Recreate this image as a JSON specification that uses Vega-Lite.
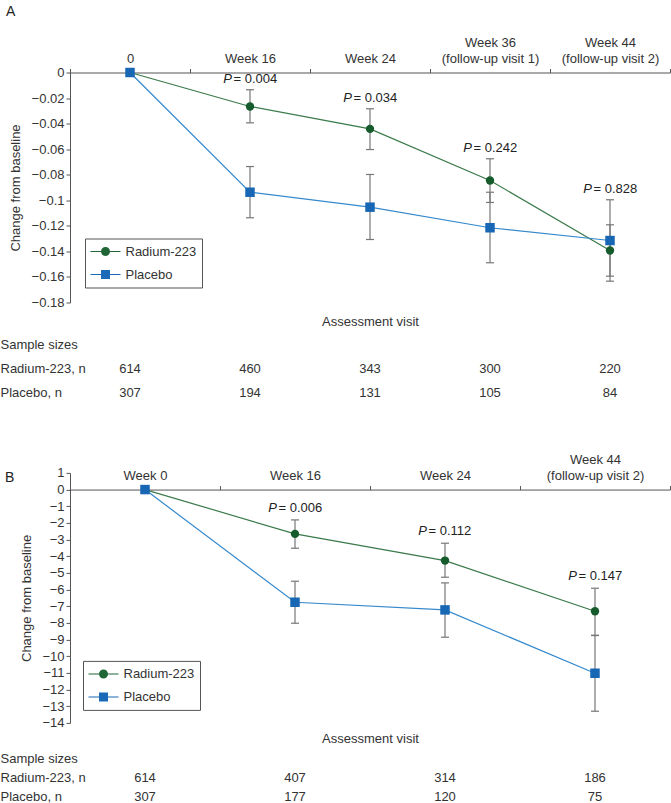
{
  "$schema": "https://vega.github.io/schema/vega-lite/v6.json",
  "padding": {"left": 0, "top": 4.5, "right": 0, "bottom": 0},
  "background": "white",
  "config": {
    "font": "Liberation Sans",
    "view": {"stroke": null},
    "axis": {"domainColor": "#555", "tickColor": "#555", "labelColor": "#333", "titleColor": "#333", "labelFontSize": 13, "titleFontSize": 13, "titleFontWeight": "normal", "grid": false, "domainWidth": 1, "tickWidth": 1, "labelFont": "Liberation Sans", "titleFont": "Liberation Sans", "labelOverlap": false},
    "axisY": {"labelOverlap": false},
    "title": {"fontWeight": "normal", "font": "Liberation Sans"},
    "legend": {"labelFont": "Liberation Sans"}
  },
  "bounds": "flush",
  "spacing": 26.2,
  "resolve": {"scale": {"color": "independent", "shape": "independent"}, "legend": {"color": "independent", "shape": "independent"}},
  "vconcat": [
    {
      "width": 600,
      "height": 230,
      "title": {"text": "A", "anchor": "start", "frame": "group", "dx": -64, "dy": -16, "offset": 2, "fontSize": 14, "fontWeight": "normal", "color": "#222"},
      "data": {"values": [
        {"visit": "0", "series": "Radium-223", "mean": 0},
        {"visit": "Week 16", "series": "Radium-223", "mean": -0.0266, "lo": -0.0394, "hi": -0.0135, "p": "= 0.004"},
        {"visit": "Week 24", "series": "Radium-223", "mean": -0.0441, "lo": -0.0603, "hi": -0.0284, "p": "= 0.034"},
        {"visit": "Week 36 (follow-up visit 1)", "series": "Radium-223", "mean": -0.0845, "lo": -0.1017, "hi": -0.0675, "p": "= 0.242"},
        {"visit": "Week 44 (follow-up visit 2)", "series": "Radium-223", "mean": -0.1393, "lo": -0.1594, "hi": -0.1192, "p": "= 0.828"},
        {"visit": "0", "series": "Placebo", "mean": 0},
        {"visit": "Week 16", "series": "Placebo", "mean": -0.0937, "lo": -0.1137, "hi": -0.0736, "p": "= 0.004"},
        {"visit": "Week 24", "series": "Placebo", "mean": -0.1054, "lo": -0.1307, "hi": -0.0798, "p": "= 0.034"},
        {"visit": "Week 36 (follow-up visit 1)", "series": "Placebo", "mean": -0.1215, "lo": -0.1489, "hi": -0.0937, "p": "= 0.242"},
        {"visit": "Week 44 (follow-up visit 2)", "series": "Placebo", "mean": -0.1315, "lo": -0.1633, "hi": -0.0996, "p": "= 0.828"}
      ]},
      "encoding": {
        "x": {"field": "visit", "type": "nominal",
          "sort": ["0", "Week 16", "Week 24", "Week 36 (follow-up visit 1)", "Week 44 (follow-up visit 2)"],
          "scale": {"type": "band", "paddingInner": 0, "paddingOuter": 0},
          "axis": {"orient": "top", "title": null, "tickBand": "extent", "tickSize": 4, "labelPadding": 19, "labelAngle": 0, "labelLineHeight": 16, "labelOverlap": false, "labelLimit": 200,
            "labelExpr": "indexof(datum.label, ' (') > 0 ? [slice(datum.label, 0, indexof(datum.label, ' (')), slice(datum.label, indexof(datum.label, ' (') + 1)] : ['', datum.label]"}}
      },
      "layer": [
        {
          "transform": [{"filter": "datum.series == 'Radium-223'"}],
          "mark": {"type": "line", "color": "#3a7a4a", "strokeWidth": 1.2},
          "encoding": {"y": {"field": "mean", "type": "quantitative", "scale": {"domain": [-0.18, 0], "nice": false, "zero": false},
            "axis": {"title": "Change from baseline", "values": [0, -0.02, -0.04, -0.06, -0.08, -0.1, -0.12, -0.14, -0.16, -0.18], "format": "~g", "tickSize": 4, "labelPadding": 2, "titlePadding": 9, "labelOverlap": false, "labelFlush": false}}}
        },
        {
          "transform": [{"filter": "datum.series == 'Placebo'"}],
          "mark": {"type": "line", "color": "#3589cc", "strokeWidth": 1.2},
          "encoding": {"y": {"field": "mean", "type": "quantitative", "scale": {"domain": [-0.18, 0], "nice": false, "zero": false},
            "axis": {"title": "Change from baseline", "values": [0, -0.02, -0.04, -0.06, -0.08, -0.1, -0.12, -0.14, -0.16, -0.18], "format": "~g", "tickSize": 4, "labelPadding": 2, "titlePadding": 9, "labelOverlap": false, "labelFlush": false}}}
        },
        {
          "transform": [{"filter": "isValid(datum.lo)"}],
          "mark": {"type": "rule", "color": "#777", "strokeWidth": 1.2},
          "encoding": {"y": {"field": "lo", "type": "quantitative", "scale": {"domain": [-0.18, 0], "nice": false, "zero": false},
            "axis": {"title": "Change from baseline", "values": [0, -0.02, -0.04, -0.06, -0.08, -0.1, -0.12, -0.14, -0.16, -0.18], "format": "~g", "tickSize": 4, "labelPadding": 2, "titlePadding": 9, "labelOverlap": false, "labelFlush": false}}, "y2": {"field": "hi"}}
        },
        {
          "transform": [{"filter": "isValid(datum.lo)"}],
          "mark": {"type": "tick", "color": "#777", "size": 8, "thickness": 1.2, "opacity": 1},
          "encoding": {"y": {"field": "lo", "type": "quantitative", "scale": {"domain": [-0.18, 0], "nice": false, "zero": false},
            "axis": {"title": "Change from baseline", "values": [0, -0.02, -0.04, -0.06, -0.08, -0.1, -0.12, -0.14, -0.16, -0.18], "format": "~g", "tickSize": 4, "labelPadding": 2, "titlePadding": 9, "labelOverlap": false, "labelFlush": false}}}
        },
        {
          "transform": [{"filter": "isValid(datum.hi)"}],
          "mark": {"type": "tick", "color": "#777", "size": 8, "thickness": 1.2, "opacity": 1},
          "encoding": {"y": {"field": "hi", "type": "quantitative", "scale": {"domain": [-0.18, 0], "nice": false, "zero": false},
            "axis": {"title": "Change from baseline", "values": [0, -0.02, -0.04, -0.06, -0.08, -0.1, -0.12, -0.14, -0.16, -0.18], "format": "~g", "tickSize": 4, "labelPadding": 2, "titlePadding": 9, "labelOverlap": false, "labelFlush": false}}}
        },
        {
          "transform": [{"filter": "datum.series == 'Radium-223'"}],
          "mark": {"type": "circle", "color": "#155b2b", "size": 70, "opacity": 1},
          "encoding": {"y": {"field": "mean", "type": "quantitative", "scale": {"domain": [-0.18, 0], "nice": false, "zero": false},
            "axis": {"title": "Change from baseline", "values": [0, -0.02, -0.04, -0.06, -0.08, -0.1, -0.12, -0.14, -0.16, -0.18], "format": "~g", "tickSize": 4, "labelPadding": 2, "titlePadding": 9, "labelOverlap": false, "labelFlush": false}}}
        },
        {
          "transform": [{"filter": "datum.series == 'Placebo'"}],
          "mark": {"type": "square", "color": "#1767b5", "size": 90, "opacity": 1},
          "encoding": {"y": {"field": "mean", "type": "quantitative", "scale": {"domain": [-0.18, 0], "nice": false, "zero": false},
            "axis": {"title": "Change from baseline", "values": [0, -0.02, -0.04, -0.06, -0.08, -0.1, -0.12, -0.14, -0.16, -0.18], "format": "~g", "tickSize": 4, "labelPadding": 2, "titlePadding": 9, "labelOverlap": false, "labelFlush": false}}}
        },
        {
          "transform": [{"filter": "isValid(datum.p)"}],
          "mark": {"type": "text", "text": "P", "fontStyle": "italic", "fontSize": 13, "color": "#222", "align": "right", "baseline": "middle", "dx": -18, "dy": -11},
          "encoding": {"y": {"aggregate": "max", "field": "hi", "type": "quantitative", "scale": {"domain": [-0.18, 0], "nice": false, "zero": false},
            "axis": {"title": "Change from baseline", "values": [0, -0.02, -0.04, -0.06, -0.08, -0.1, -0.12, -0.14, -0.16, -0.18], "format": "~g", "tickSize": 4, "labelPadding": 2, "titlePadding": 9, "labelOverlap": false, "labelFlush": false}}}
        },
        {
          "transform": [{"filter": "isValid(datum.p)"}],
          "mark": {"type": "text", "fontSize": 13, "color": "#222", "align": "left", "baseline": "middle", "dx": -16.5, "dy": -11},
          "encoding": {"y": {"aggregate": "max", "field": "hi", "type": "quantitative", "scale": {"domain": [-0.18, 0], "nice": false, "zero": false},
            "axis": {"title": "Change from baseline", "values": [0, -0.02, -0.04, -0.06, -0.08, -0.1, -0.12, -0.14, -0.16, -0.18], "format": "~g", "tickSize": 4, "labelPadding": 2, "titlePadding": 9, "labelOverlap": false, "labelFlush": false}}, "text": {"field": "p", "type": "nominal"}}
        },
        {
          "transform": [{"filter": "false"}],
          "mark": {"type": "point", "filled": true, "opacity": 1},
          "encoding": {
            "color": {"field": "series", "type": "nominal", "scale": {"domain": ["Radium-223", "Placebo"], "range": ["#1f6535", "#1a6ab8"]},
              "legend": {"title": null, "orient": "bottom-left", "offset": 15, "padding": 5.5, "rowPadding": 8, "strokeColor": "#555", "fillColor": "white", "symbolSize": 225, "symbolStrokeWidth": 0, "labelOffset": 20, "labelFontSize": 13, "labelColor": "#333"}},
            "shape": {"field": "series", "type": "nominal", "scale": {"domain": ["Radium-223", "Placebo"], "range": ["M-1,-0.07H3V0.07H-1ZM0.4,0A0.6,0.6 0 1,1 1.6,0A0.6,0.6 0 1,1 0.4,0Z", "M-1,-0.07H3V0.07H-1ZM0.4,-0.6H1.6V0.6H0.4Z"]}}
          }
        }
      ]
    },
    {
      "width": 600,
      "height": 117.9,
      "data": {"values": [
        {"visit": "0", "row": "Radium-223, n", "n": "614"},
        {"visit": "Week 16", "row": "Radium-223, n", "n": "460"},
        {"visit": "Week 24", "row": "Radium-223, n", "n": "343"},
        {"visit": "Week 36 (follow-up visit 1)", "row": "Radium-223, n", "n": "300"},
        {"visit": "Week 44 (follow-up visit 2)", "row": "Radium-223, n", "n": "220"},
        {"visit": "0", "row": "Placebo, n", "n": "307"},
        {"visit": "Week 16", "row": "Placebo, n", "n": "194"},
        {"visit": "Week 24", "row": "Placebo, n", "n": "131"},
        {"visit": "Week 36 (follow-up visit 1)", "row": "Placebo, n", "n": "105"},
        {"visit": "Week 44 (follow-up visit 2)", "row": "Placebo, n", "n": "84"}
      ]},
      "mark": {"type": "text", "fontSize": 13, "color": "#333", "baseline": "middle"},
      "encoding": {
        "x": {"field": "visit", "type": "nominal", "sort": ["0", "Week 16", "Week 24", "Week 36 (follow-up visit 1)", "Week 44 (follow-up visit 2)"],
          "scale": {"type": "band", "paddingInner": 0, "paddingOuter": 0},
          "axis": {"orient": "top", "title": "Assessment visit", "labels": false, "ticks": false, "domain": false, "titlePadding": 0}},
        "y": {"field": "row", "type": "nominal", "scale": {"type": "band", "domain": ["Sample sizes", "Radium-223, n", "Placebo, n"], "paddingInner": 0, "paddingOuter": 1.6026, "align": 0.1034},
          "axis": {"title": null, "labelAlign": "left", "labelPadding": 70, "ticks": false, "tickSize": 0, "domain": false, "labelFontSize": 13, "labelBaseline": "middle"}},
        "text": {"field": "n", "type": "nominal"}
      }
    },
    {
      "width": 600,
      "height": 250,
      "title": {"text": "B", "anchor": "start", "frame": "group", "dx": -65, "dy": 33.5, "offset": 2, "fontSize": 14, "fontWeight": "normal", "color": "#222"},
      "data": {"values": [
        {"visit": "Week 0", "series": "Radium-223", "mean": 0},
        {"visit": "Week 16", "series": "Radium-223", "mean": -2.66, "lo": -3.52, "hi": -1.82, "p": "= 0.006"},
        {"visit": "Week 24", "series": "Radium-223", "mean": -4.26, "lo": -5.26, "hi": -3.22, "p": "= 0.112"},
        {"visit": "Week 44 (follow-up visit 2)", "series": "Radium-223", "mean": -7.3, "lo": -8.76, "hi": -5.92, "p": "= 0.147"},
        {"visit": "Week 0", "series": "Placebo", "mean": 0},
        {"visit": "Week 16", "series": "Placebo", "mean": -6.76, "lo": -8.02, "hi": -5.5, "p": "= 0.006"},
        {"visit": "Week 24", "series": "Placebo", "mean": -7.22, "lo": -8.86, "hi": -5.6, "p": "= 0.112"},
        {"visit": "Week 44 (follow-up visit 2)", "series": "Placebo", "mean": -11.02, "lo": -13.3, "hi": -8.74, "p": "= 0.147"}
      ]},
      "encoding": {
        "x": {"field": "visit", "type": "nominal",
          "sort": ["Week 0", "Week 16", "Week 24", "Week 44 (follow-up visit 2)"],
          "scale": {"type": "band", "paddingInner": 0, "paddingOuter": 0},
          "axis": {"orient": "top", "offset": -16.667, "title": null, "tickBand": "extent", "tickSize": 4, "labelPadding": 19, "labelAngle": 0, "labelLineHeight": 16, "labelOverlap": false, "labelLimit": 200,
            "labelExpr": "indexof(datum.label, ' (') > 0 ? [slice(datum.label, 0, indexof(datum.label, ' (')), slice(datum.label, indexof(datum.label, ' (') + 1)] : ['', datum.label]"}}
      },
      "layer": [
        {
          "transform": [{"filter": "datum.series == 'Radium-223'"}],
          "mark": {"type": "line", "color": "#3a7a4a", "strokeWidth": 1.2},
          "encoding": {"y": {"field": "mean", "type": "quantitative", "scale": {"domain": [-14, 1], "nice": false, "zero": false},
            "axis": {"title": "Change from baseline", "values": [1, 0, -1, -2, -3, -4, -5, -6, -7, -8, -9, -10, -11, -12, -13, -14], "format": "~g", "tickSize": 4, "labelPadding": 2, "titlePadding": 8, "labelOverlap": false, "labelFlush": false}}}
        },
        {
          "transform": [{"filter": "datum.series == 'Placebo'"}],
          "mark": {"type": "line", "color": "#3589cc", "strokeWidth": 1.2},
          "encoding": {"y": {"field": "mean", "type": "quantitative", "scale": {"domain": [-14, 1], "nice": false, "zero": false},
            "axis": {"title": "Change from baseline", "values": [1, 0, -1, -2, -3, -4, -5, -6, -7, -8, -9, -10, -11, -12, -13, -14], "format": "~g", "tickSize": 4, "labelPadding": 2, "titlePadding": 8, "labelOverlap": false, "labelFlush": false}}}
        },
        {
          "transform": [{"filter": "isValid(datum.lo)"}],
          "mark": {"type": "rule", "color": "#777", "strokeWidth": 1.2},
          "encoding": {"y": {"field": "lo", "type": "quantitative", "scale": {"domain": [-14, 1], "nice": false, "zero": false},
            "axis": {"title": "Change from baseline", "values": [1, 0, -1, -2, -3, -4, -5, -6, -7, -8, -9, -10, -11, -12, -13, -14], "format": "~g", "tickSize": 4, "labelPadding": 2, "titlePadding": 8, "labelOverlap": false, "labelFlush": false}}, "y2": {"field": "hi"}}
        },
        {
          "transform": [{"filter": "isValid(datum.lo)"}],
          "mark": {"type": "tick", "color": "#777", "size": 8, "thickness": 1.2, "opacity": 1},
          "encoding": {"y": {"field": "lo", "type": "quantitative", "scale": {"domain": [-14, 1], "nice": false, "zero": false},
            "axis": {"title": "Change from baseline", "values": [1, 0, -1, -2, -3, -4, -5, -6, -7, -8, -9, -10, -11, -12, -13, -14], "format": "~g", "tickSize": 4, "labelPadding": 2, "titlePadding": 8, "labelOverlap": false, "labelFlush": false}}}
        },
        {
          "transform": [{"filter": "isValid(datum.hi)"}],
          "mark": {"type": "tick", "color": "#777", "size": 8, "thickness": 1.2, "opacity": 1},
          "encoding": {"y": {"field": "hi", "type": "quantitative", "scale": {"domain": [-14, 1], "nice": false, "zero": false},
            "axis": {"title": "Change from baseline", "values": [1, 0, -1, -2, -3, -4, -5, -6, -7, -8, -9, -10, -11, -12, -13, -14], "format": "~g", "tickSize": 4, "labelPadding": 2, "titlePadding": 8, "labelOverlap": false, "labelFlush": false}}}
        },
        {
          "transform": [{"filter": "datum.series == 'Radium-223'"}],
          "mark": {"type": "circle", "color": "#155b2b", "size": 70, "opacity": 1},
          "encoding": {"y": {"field": "mean", "type": "quantitative", "scale": {"domain": [-14, 1], "nice": false, "zero": false},
            "axis": {"title": "Change from baseline", "values": [1, 0, -1, -2, -3, -4, -5, -6, -7, -8, -9, -10, -11, -12, -13, -14], "format": "~g", "tickSize": 4, "labelPadding": 2, "titlePadding": 8, "labelOverlap": false, "labelFlush": false}}}
        },
        {
          "transform": [{"filter": "datum.series == 'Placebo'"}],
          "mark": {"type": "square", "color": "#1767b5", "size": 90, "opacity": 1},
          "encoding": {"y": {"field": "mean", "type": "quantitative", "scale": {"domain": [-14, 1], "nice": false, "zero": false},
            "axis": {"title": "Change from baseline", "values": [1, 0, -1, -2, -3, -4, -5, -6, -7, -8, -9, -10, -11, -12, -13, -14], "format": "~g", "tickSize": 4, "labelPadding": 2, "titlePadding": 8, "labelOverlap": false, "labelFlush": false}}}
        },
        {
          "transform": [{"filter": "isValid(datum.p)"}],
          "mark": {"type": "text", "text": "P", "fontStyle": "italic", "fontSize": 13, "color": "#222", "align": "right", "baseline": "middle", "dx": -18, "dy": -12},
          "encoding": {"y": {"aggregate": "max", "field": "hi", "type": "quantitative", "scale": {"domain": [-14, 1], "nice": false, "zero": false},
            "axis": {"title": "Change from baseline", "values": [1, 0, -1, -2, -3, -4, -5, -6, -7, -8, -9, -10, -11, -12, -13, -14], "format": "~g", "tickSize": 4, "labelPadding": 2, "titlePadding": 8, "labelOverlap": false, "labelFlush": false}}}
        },
        {
          "transform": [{"filter": "isValid(datum.p)"}],
          "mark": {"type": "text", "fontSize": 13, "color": "#222", "align": "left", "baseline": "middle", "dx": -16.5, "dy": -12},
          "encoding": {"y": {"aggregate": "max", "field": "hi", "type": "quantitative", "scale": {"domain": [-14, 1], "nice": false, "zero": false},
            "axis": {"title": "Change from baseline", "values": [1, 0, -1, -2, -3, -4, -5, -6, -7, -8, -9, -10, -11, -12, -13, -14], "format": "~g", "tickSize": 4, "labelPadding": 2, "titlePadding": 8, "labelOverlap": false, "labelFlush": false}}, "text": {"field": "p", "type": "nominal"}}
        },
        {
          "transform": [{"filter": "false"}],
          "mark": {"type": "point", "filled": true, "opacity": 1},
          "encoding": {
            "color": {"field": "series", "type": "nominal", "scale": {"domain": ["Radium-223", "Placebo"], "range": ["#1f6535", "#1a6ab8"]},
              "legend": {"title": null, "orient": "bottom-left", "offset": 13, "padding": 5.5, "rowPadding": 8, "strokeColor": "#555", "fillColor": "white", "symbolSize": 225, "symbolStrokeWidth": 0, "labelOffset": 20, "labelFontSize": 13, "labelColor": "#333"}},
            "shape": {"field": "series", "type": "nominal", "scale": {"domain": ["Radium-223", "Placebo"], "range": ["M-1,-0.07H3V0.07H-1ZM0.4,0A0.6,0.6 0 1,1 1.6,0A0.6,0.6 0 1,1 0.4,0Z", "M-1,-0.07H3V0.07H-1ZM0.4,-0.6H1.6V0.6H0.4Z"]}}
          }
        }
      ]
    },
    {
      "width": 600,
      "height": 57,
      "data": {"values": [
        {"visit": "Week 0", "row": "Radium-223, n", "n": "614"},
        {"visit": "Week 16", "row": "Radium-223, n", "n": "407"},
        {"visit": "Week 24", "row": "Radium-223, n", "n": "314"},
        {"visit": "Week 44 (follow-up visit 2)", "row": "Radium-223, n", "n": "186"},
        {"visit": "Week 0", "row": "Placebo, n", "n": "307"},
        {"visit": "Week 16", "row": "Placebo, n", "n": "177"},
        {"visit": "Week 24", "row": "Placebo, n", "n": "120"},
        {"visit": "Week 44 (follow-up visit 2)", "row": "Placebo, n", "n": "75"}
      ]},
      "mark": {"type": "text", "fontSize": 13, "color": "#333", "baseline": "middle"},
      "encoding": {
        "x": {"field": "visit", "type": "nominal", "sort": ["Week 0", "Week 16", "Week 24", "Week 44 (follow-up visit 2)"],
          "scale": {"type": "band", "paddingInner": 0, "paddingOuter": 0},
          "axis": {"orient": "top", "title": "Assessment visit", "labels": false, "ticks": false, "domain": false, "titlePadding": 3.7}},
        "y": {"field": "row", "type": "nominal", "scale": {"type": "band", "domain": ["Sample sizes", "Radium-223, n", "Placebo, n"], "paddingInner": 0, "paddingOuter": 0},
          "axis": {"title": null, "labelAlign": "left", "labelPadding": 70, "ticks": false, "tickSize": 0, "domain": false, "labelFontSize": 13, "labelBaseline": "middle"}},
        "text": {"field": "n", "type": "nominal"}
      }
    }
  ]
}
